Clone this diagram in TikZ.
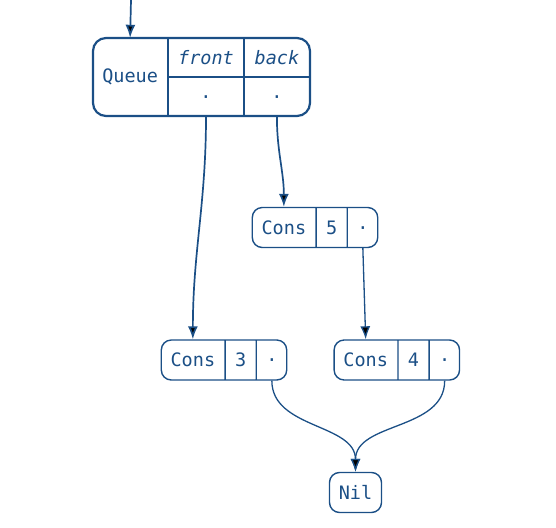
\documentclass[tikz,border=0pt]{standalone}
\usepackage{fontspec}
\setmonofont{DejaVu Sans Mono}
\usetikzlibrary{arrows.meta,shapes.multipart,positioning}
\definecolor{ink}{HTML}{1B4F86}
\newcommand{\ptr}{\vphantom{C}·}

\begin{document}
\begin{tikzpicture}[x=1pt, y=1pt,
		base/.style   = {font=\ttfamily\fontsize{18.5}{22}\selectfont, text=ink},
		qbox/.style   = {draw=ink, line width=2.2pt, rounded corners=13pt, rectangle, minimum width=217pt, minimum height=78pt},
		field/.style  = {base, inner sep=0pt, minimum width=75pt, minimum height=39pt},
		cell/.style   = {base, draw=ink, line width=1.4pt, rounded corners=10pt, minimum height=40pt, inner xsep=9.3pt, inner ysep=0pt},
		cons/.style   = {cell, rectangle split, rectangle split horizontal, rectangle split parts=3},
		divider/.style = {draw=ink, line width=2.2pt},
		link/.style   = {->, draw=ink, line width=1.7pt},
		thin link/.style = {->, draw=ink, line width=1.3pt},
		>={Latex[length=13pt,width=10pt]}]
		
		\useasboundingbox (0,0) rectangle (556,-527);
		
		% the queue record, outer box and its fields
		\node[qbox] (queue) at (201.5,-77) {};
		\node[field, minimum width=76pt, minimum height=78pt, anchor=west] (qlabel) at (queue.west) {Queue};
		\node[field, anchor=north west] (qfront) at (qlabel.north east) {\itshape front};
		\node[field, anchor=north west, minimum width=66pt] (qback) at (qfront.north east) {\itshape back};
		\node[field, below=0pt of qfront] (qfrontval) {\ptr};
		\node[field, minimum width=66pt, below=0pt of qback] (qbackval) {\ptr};
		
		\draw[divider] (qlabel.north east) -- (qlabel.south east);
		\draw[divider] (qfront.north east) -- (qfrontval.south east);
		\draw[divider] (qfront.south west) -- (qback.south east);
		
		% the list cells
		\node[cons] (cons5) at (315,-227.5) {Cons\nodepart{two}5\nodepart{three}\ptr};
		\node[cons] (cons3) at (224,-360) {Cons\nodepart{two}3\nodepart{three}\ptr};
		\node[cons, right=46pt of cons3] (cons4) {Cons\nodepart{two}4\nodepart{three}\ptr};
		\node[cell] (nil) at (355.5,-492.5) {Nil};
		
		% pointers
		\coordinate (entry) at (131,0);
		\draw[link] (entry) -- (qlabel.north);
		\draw[link] (qfrontval.south) to[out=-90, in=90] (cons3.one north);
		\draw[link] (qbackval.south) to[out=-90, in=90] (cons5.one north);
		
		\draw[thin link] (cons5.three south) -- (cons4.one north);
		\foreach \value in {3,4}
		\draw[thin link] (cons\value.three south) to[out=-90, in=90] (nil.north);
		
	\end{tikzpicture}
\end{document}
